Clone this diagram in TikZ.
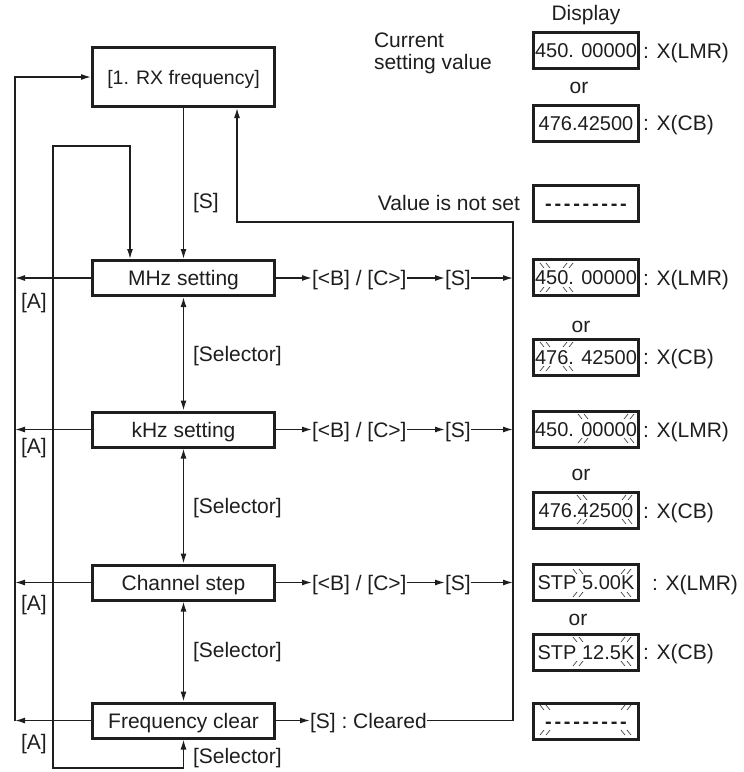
\documentclass[tikz,border=0pt]{standalone}
\usepackage{fontspec}
\setmainfont{Liberation Sans}
\usetikzlibrary{arrows.meta,calc}
\definecolor{ink}{HTML}{1E1E1E}
\newcommand\lcddashes{\bfseries-\kern2.7pt-\kern2.7pt-\kern2.7pt-\kern2.7pt-\kern2.7pt-\kern2.7pt-\kern2.7pt-\kern2.7pt-}
\newcommand\bslpair[2]{\draw[blk] (#1,#2) -- ++(4,5) (#1+6,#2) -- ++(4,5);}
\newcommand\fslpair[2]{\draw[blk] (#1,#2+5) -- ++(4,-5) (#1+6,#2+5) -- ++(4,-5);}
\newcommand\blinkgrp[4]{\bslpair{#1}{#3}\fslpair{#2}{#3}\fslpair{#1}{#4}\bslpair{#2}{#4}}
\begin{document}
\begin{tikzpicture}[x=1pt,y=-1pt,
  every node/.style={inner sep=0pt,outer sep=0pt,text=ink},
  txt/.style={font=\fontsize{21}{24}\selectfont,text height=18pt,text depth=3pt},
  dtxt/.style={font=\fontsize{20}{23}\selectfont,text height=17.2pt,text depth=2.8pt},
  mainbox/.style={txt,draw=ink,line width=3pt,outer sep=1.5pt,minimum width=182pt,minimum height=35pt},
  dbox/.style={dtxt,draw=ink,line width=3pt,outer sep=1.5pt,minimum width=105pt,minimum height=36pt},
  conn/.style={draw=ink,line width=1.4pt},
  arr/.style={conn,-{Latex[length=10pt,width=6pt]}},
  darr/.style={conn,{Latex[length=10pt,width=6pt]}-{Latex[length=10pt,width=6pt]}},
  blk/.style={draw=ink!85,line width=0.7pt}]
\useasboundingbox (0,0) rectangle (744,772);

% main boxes
\node[mainbox,font=\fontsize{19.5}{22}\selectfont,minimum height=59pt] (rx) at (183.5,77) {[1. RX frequency]};
\node[mainbox] (mhz) at (183.5,278) {MHz setting};
\node[mainbox] (khz) at (183.5,429.5) {kHz setting};
\node[mainbox] (chs) at (183.5,582.5) {Channel step};
\node[mainbox] (fcl) at (183.5,720.5) {Frequency clear};

% helper coordinates
\coordinate (ol) at (15,0);
\coordinate (il) at (53,0);
\coordinate (rl) at (513,0);
\coordinate (ib) at (53,768);
\coordinate (it) at (53,146);
\coordinate (itr) at (130,146);
\coordinate (ret) at (237,222);

% vertical flow
\draw[arr] (rx.south) -- (mhz.north);
\node[txt,anchor=west] (lS) at (193,201) {[S]};
\draw[darr] (mhz.south) -- (khz.north);
\draw[darr] (khz.south) -- (chs.north);
\draw[darr] (chs.south) -- (fcl.north);
\node[txt,anchor=west] (sel1) at (193,354) {[Selector]};
\node[txt,anchor=west] (sel2) at (193,506) {[Selector]};
\node[txt,anchor=west] (sel3) at (193,650) {[Selector]};
\node[txt,anchor=west] (sel4) at (193,756) {[Selector]};

% inner loop
\draw[darr] (fcl.south) |- (ib) -- (it) -- (itr) -- (itr |- mhz.north);

% outer loop [A]
\draw[arr] (mhz.west) -- (mhz.west -| ol);
\draw[arr] (khz.west) -- (khz.west -| ol);
\draw[arr] (chs.west) -- (chs.west -| ol);
\draw[arr] (fcl.west) -- (fcl.west -| ol);
\draw[arr] (fcl.west -| ol) -- (rx.west -| ol) -- (rx.west);
\node[txt,anchor=west] (a1) at (21,301) {[A]};
\node[txt,anchor=west] (a2) at (21,446) {[A]};
\node[txt,anchor=west] (a3) at (21,603) {[A]};
\node[txt,anchor=west] (a4) at (21,742) {[A]};

% right chains
\node[txt,anchor=west] (bc1) at (312,278) {[<B] / [C>]};
\node[txt,anchor=west] (s1) at (445,278) {[S]};
\node[txt,anchor=west] (bc2) at (312,429.5) {[<B] / [C>]};
\node[txt,anchor=west] (s2) at (445,429.5) {[S]};
\node[txt,anchor=west] (bc3) at (312,582.5) {[<B] / [C>]};
\node[txt,anchor=west] (s3) at (445,582.5) {[S]};
\node[txt,anchor=west] (clr) at (310,720.5) {[S] : Cleared};
\draw[arr] (mhz.east) -- (bc1.west);
\draw[arr] (bc1.east) -- (s1.west);
\draw[arr] (s1.east) -- (s1.east -| rl);
\draw[arr] (khz.east) -- (bc2.west);
\draw[arr] (bc2.east) -- (s2.west);
\draw[arr] (s2.east) -- (s2.east -| rl);
\draw[arr] (chs.east) -- (bc3.west);
\draw[arr] (bc3.east) -- (s3.west);
\draw[arr] (s3.east) -- (s3.east -| rl);
\draw[arr] (fcl.east) -- (clr.west);
\draw[arr] (clr.east) -- (clr.east -| rl) -- (rl |- ret) -- (ret) -- (ret |- rx.south);

% display column
\node[txt] (disp) at (586,13) {Display};
\node[txt,anchor=west] (cur1) at (374,40) {Current};
\node[txt,anchor=west] (cur2) at (374,62) {setting value};
\node[dbox] (d1) at (586,50.5) {450. 00000};
\node[txt,anchor=west] (x1) at (643,50.5) {: X(LMR)};
\node[txt] (or1) at (579,85.5) {or};
\node[dbox] (d2) at (586,123) {476.42500};
\node[txt,anchor=west] (x2) at (643,123) {: X(CB)};
\node[txt,anchor=east] (nv) at (520,203) {Value is not set};
\node[dbox] (d3) at (586,203) {\lcddashes};

\node[dbox] (d4) at (586,277.5) {450. 00000};
\node[txt,anchor=west] (x4) at (643,277.5) {: X(LMR)};
\node[txt] (or2) at (581,324.5) {or};
\node[dbox] (d5) at (586,357) {476. 42500};
\node[txt,anchor=west] (x5) at (643,357) {: X(CB)};

\node[dbox] (d6) at (586,429.5) {450. 00000};
\node[txt,anchor=west] (x6) at (643,429.5) {: X(LMR)};
\node[txt] (or3) at (581,472.5) {or};
\node[dbox] (d7) at (586,510.5) {476.42500};
\node[txt,anchor=west] (x7) at (643,510.5) {: X(CB)};

\node[dbox] (d8) at (586,582.5) {STP 5.00K};
\node[txt,anchor=west] (x8) at (652,582.5) {: X(LMR)};
\node[txt] (or4) at (578,617.5) {or};
\node[dbox] (d9) at (586,652) {STP 12.5K};
\node[txt,anchor=west] (x9) at (643,652) {: X(CB)};

\node[dbox] (d10) at (586,721) {\lcddashes};

% blink marks
\blinkgrp{540}{563}{263}{287}
\blinkgrp{540}{563}{342}{366}
\blinkgrp{578}{624}{414}{438}
\blinkgrp{577}{622}{495}{519}
\blinkgrp{573}{621}{569}{592}
\blinkgrp{573}{621}{637}{661}
\blinkgrp{540}{621}{705}{730}
\end{tikzpicture}
\end{document}
